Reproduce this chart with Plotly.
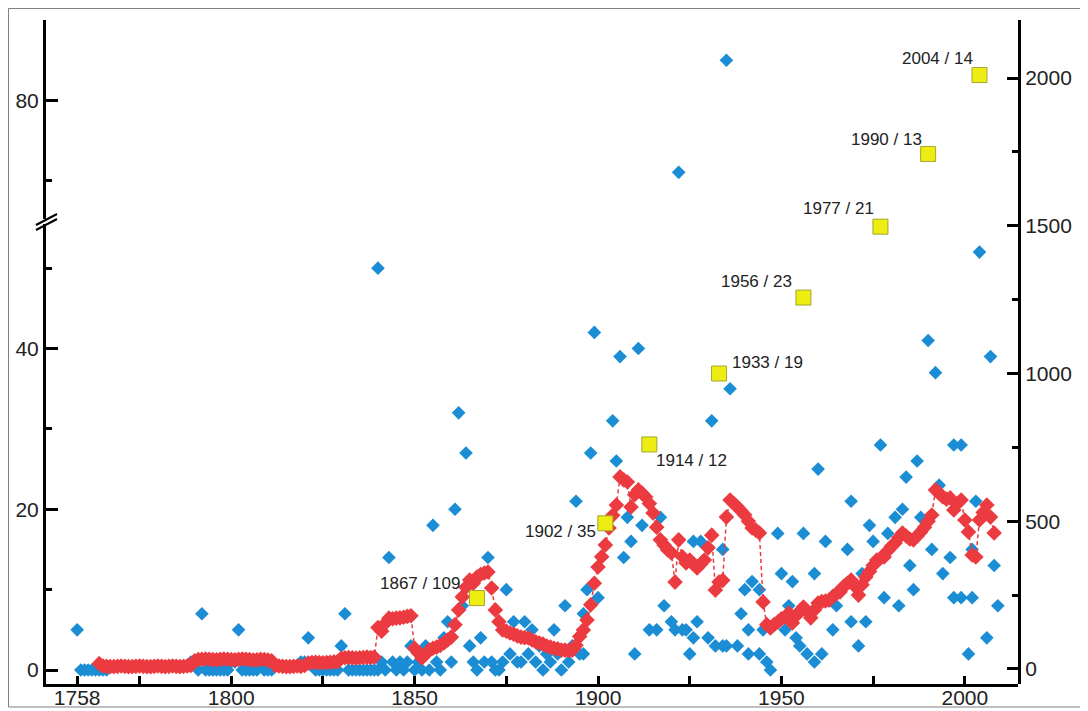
import plotly.graph_objects as go

# ---------------- data ----------------
red_start_year = 1764
red_values = [
    18,
    10, 9, 8, 8, 9, 10, 9, 8, 8, 9, 10, 9, 8, 8, 9, 10, 9, 8, 9, 10, 9, 8, 9, 10, 12,
    28, 32, 33, 34, 33, 32, 31, 33, 34, 33, 32, 31, 33, 34, 33, 32, 30, 31, 33, 32, 30, 28,
    12, 10, 9, 8, 8, 9, 10, 9, 12,
    20, 22, 23, 22, 21, 22, 23, 24, 25,
    36, 38, 39, 38, 37, 38, 39, 40, 39, 40,
    140, 128, 155, 172, 170, 172, 173, 175, 178, 180,
    70, 54, 37, 50, 64, 70, 74, 80, 88, 98,
    108, 150, 200, 244, 277, 301, 290, 311, 320, 325,
    328, 274, 200, 160, 132, 128, 122, 118, 112, 108,
    106, 105, 98, 92, 88, 84, 78, 74, 70, 68,
    64, 64, 62, 64, 80, 110, 132, 166, 217, 290,
    345, 380, 420, 477, 520, 555, 650, 640, 633, 548,
    590, 606, 595, 582, 560, 528, 480, 437, 420, 403,
    393, 294, 437, 380, 359, 369, 355, 342, 355, 369,
    410, 453, 267, 294, 300, 514, 572, 560, 548, 535,
    521, 500, 477, 470, 460, 227, 150, 139, 150, 159,
    170, 176, 189, 156, 180, 195, 210, 195, 173, 200,
    223, 228, 230, 233, 245, 255, 261, 280, 290, 301,
    280, 250, 285, 311, 330, 350, 369, 375, 379, 400,
    415, 426, 445, 460, 450, 440, 437, 450, 464, 480,
    500, 521, 606, 595, 582, 575, 579, 538, 560, 572,
    504, 464, 386, 379, 504, 530, 555, 514, 460,
]
red_years = list(range(red_start_year, red_start_year + len(red_values)))

blue_years = [
    1758, 1759, 1760, 1761, 1762, 1763, 1764, 1765, 1766,
    1789, 1790, 1791, 1792, 1793, 1794, 1795, 1796, 1797, 1798, 1799,
    1800, 1801, 1802, 1803, 1804, 1805, 1806, 1807, 1808, 1809, 1810, 1811,
    1819, 1820, 1821, 1822, 1823, 1824, 1825, 1826, 1827, 1828, 1829,
    1830, 1831, 1832, 1833, 1834, 1835, 1836, 1837, 1838, 1839,
    1840, 1840, 1841, 1842, 1843, 1844, 1845, 1846, 1847, 1848, 1849,
    1850, 1851, 1852, 1853, 1854, 1855, 1856, 1857, 1858, 1859,
    1860, 1861, 1862, 1863, 1864, 1865, 1866, 1867, 1868, 1869,
    1870, 1871, 1872, 1873, 1874, 1875, 1876, 1877, 1878, 1879,
    1880, 1881, 1882, 1883, 1884, 1885, 1886, 1887, 1888, 1889,
    1890, 1891, 1892, 1893, 1894, 1895, 1896, 1896, 1897, 1898, 1899,
    1900, 1904, 1905, 1906, 1907, 1908, 1909, 1910, 1911, 1912,
    1914, 1916, 1917, 1918, 1920, 1921, 1922, 1923, 1924, 1925,
    1926, 1926, 1927, 1928, 1930, 1931, 1932, 1934, 1934, 1935, 1935, 1936,
    1938, 1939, 1940, 1941, 1941, 1942, 1944, 1944, 1945, 1946, 1947,
    1949, 1950, 1951, 1952, 1953, 1954, 1955, 1956, 1957, 1959, 1959,
    1960, 1961, 1962, 1964, 1965, 1968, 1969, 1969, 1971, 1972, 1973,
    1974, 1975, 1977, 1978, 1979, 1981, 1982, 1983, 1984, 1985, 1986,
    1987, 1988, 1990, 1991, 1992, 1993, 1994, 1996, 1997, 1997, 1999, 1999,
    2001, 2002, 2002, 2003, 2004, 2006, 2007, 2008, 2009,
]
blue_values = [
    5, 0, 0, 0, 0, 0, 0, 0, 0,
    1, 1, 0, 7, 0, 0, 0, 0, 0, 0, 0,
    1, 1, 5, 0, 0, 0, 0, 0, 1, 0, 0, 0,
    1, 1, 4, 1, 0, 0, 0, 0, 0, 0, 0,
    3, 7, 0, 0, 0, 0, 0, 0, 0, 0,
    50, 0, 1, 0, 14, 1, 0, 1, 0, 1, 3,
    0, 1, 0, 3, 0, 18, 1, 0, 4, 6,
    1, 20, 32, 8, 27, 3, 1, 0, 4, 1,
    14, 1, 0, 0, 1, 10, 2, 6, 1, 1,
    6, 2, 5, 1, 3, 0, 2, 1, 5, 2,
    0, 8, 1, 3, 21, 2, 7, 2, 10, 27, 42,
    9, 31, 26, 39, 14, 19, 16, 2, 40, 18,
    5, 5, 19, 8, 6, 5, 71, 5, 5, 2,
    16, 4, 6, 16, 4, 31, 3, 15, 3, 85, 3, 35,
    3, 7, 10, 5, 2, 11, 10, 2, 5, 1, 0,
    17, 12, 5, 8, 11, 4, 3, 17, 2, 12, 1,
    25, 2, 16, 5, 8, 15, 21, 6, 3, 12, 6,
    18, 16, 28, 9, 17, 19, 8, 20, 24, 13, 10,
    26, 19, 41, 15, 37, 23, 12, 14, 28, 9, 28, 9,
    2, 15, 9, 21, 52, 4, 39, 13, 8,
]

milestone_years = [1867, 1902, 1914, 1933, 1956, 1977, 1990, 2004]
milestone_values = [240, 493, 760, 1000, 1257, 1497, 1743, 2010]
milestone_labels = ["1867 / 109", "1902 / 35", "1914 / 12", "1933 / 19",
                    "1956 / 23", "1977 / 21", "1990 / 13", "2004 / 14"]

x_tick_vals = [1758, 1800, 1850, 1900, 1950, 2000]
x_minor_ticks = [1775, 1825, 1875, 1925, 1975]
left_low_ticks = [0, 20, 40]
left_low_minor = [10, 30, 50]
left_high_ticks = [80]
left_high_minor = [70, 90]
right_ticks = [0, 500, 1000, 1500, 2000]
right_minor = [250, 750, 1250, 1750]
axis_break_value = 60

# ---------------- style ----------------
BLUE = "#1B8DD4"
RED = "#EC3B40"
YELLOW = "#EDED12"
YELLOW_EDGE = "#A5A530"
FONT = "Liberation Sans, Arial, Helvetica, sans-serif"
TEXT = "#222222"

# the page body has an 8px margin, so the figure starts at page (8, 8)
OFF = 8
W, H = 1088 - OFF, 711 - OFF
ML, MR, MT, MB = 46 - OFF, 70, 20 - OFF, 27
PW, PH = W - ML - MR, H - MT - MB

# label offsets (pixels) relative to each square: (xanchor, xshift, yshift)
label_style = [("right", -15, 15), ("right", -7, -8), ("left", 5, -16), ("left", 11, 11),
               ("right", -9, 16), ("right", -4, 18), ("right", -4, 14), ("right", -4, 17)]

low_x = [x for x, v in zip(blue_years, blue_values) if v < axis_break_value]
low_y = [v for v in blue_values if v < axis_break_value]
high_x = [x for x, v in zip(blue_years, blue_values) if v >= axis_break_value]
high_y = [v for v in blue_values if v >= axis_break_value]

fig = go.Figure()
blue_marker = dict(symbol="diamond", size=10.5, color=BLUE, line=dict(width=0))
fig.add_trace(go.Scatter(x=low_x, y=low_y, mode="markers", marker=blue_marker,
                         xaxis="x", yaxis="y", cliponaxis=False, showlegend=False))
fig.add_trace(go.Scatter(x=high_x, y=high_y, mode="markers", marker=blue_marker,
                         xaxis="x", yaxis="y2", cliponaxis=False, showlegend=False))
fig.add_trace(go.Scatter(x=red_years, y=red_values, mode="lines+markers",
                         line=dict(color=RED, width=1.5, dash="4px,3px"),
                         marker=dict(symbol="diamond", size=12, color=RED, line=dict(width=0)),
                         xaxis="x", yaxis="y3", cliponaxis=False, showlegend=False))
fig.add_trace(go.Scatter(x=milestone_years, y=milestone_values, mode="markers",
                         marker=dict(symbol="square", size=15, color=YELLOW,
                                     line=dict(color=YELLOW_EDGE, width=1)),
                         xaxis="x", yaxis="y3", cliponaxis=False, showlegend=False))

annotations = []
for yr, val, lab, (xa, xs, ys) in zip(milestone_years, milestone_values, milestone_labels, label_style):
    annotations.append(dict(x=yr, y=val, xref="x", yref="y3", text=lab, showarrow=False,
                            xanchor=xa, yanchor="middle", xshift=xs, yshift=ys,
                            font=dict(family=FONT, size=17, color=TEXT)))

def px_x(p):
    # page pixel -> paper coordinate
    return (p - OFF - ML) / PW

def px_y(p):
    return (H - MB - (p - OFF)) / PH

shapes = [
    dict(type="rect", xref="paper", yref="paper", x0=px_x(OFF + 0.5), x1=px_x(1084),
         y0=px_y(707), y1=px_y(OFF + 0.5), line=dict(color="#808080", width=1)),
    dict(type="line", xref="paper", yref="paper", x0=px_x(36), y0=px_y(230),
         x1=px_x(57), y1=px_y(219), line=dict(color="black", width=2)),
    dict(type="line", xref="paper", yref="paper", x0=px_x(36), y0=px_y(225),
         x1=px_x(57), y1=px_y(214), line=dict(color="black", width=2)),
]

tickfont = dict(family=FONT, size=21, color=TEXT)
axis_common = dict(showline=True, linecolor="black", linewidth=3, ticks="inside",
                   tickcolor="black", tickwidth=2.5, showgrid=False, zeroline=False,
                   tickfont=tickfont, automargin=False)

fig.update_layout(
    width=W, height=H,
    margin=dict(l=ML, r=MR, t=MT, b=MB, autoexpand=False),
    paper_bgcolor="white", plot_bgcolor="rgba(0,0,0,0)",
    showlegend=False,
    xaxis=dict(range=[1749.5, 2014.5], anchor="y", tickvals=x_tick_vals, ticklen=8,
               ticklabelstandoff=-7,
               minor=dict(tickvals=x_minor_ticks, ticks="inside", ticklen=8,
                          tickwidth=2.5, tickcolor="black"),
               **axis_common),
    yaxis=dict(domain=[0, 0.6925], range=[-1.74, 55.47], anchor="x", side="left",
               tickvals=left_low_ticks, ticklen=12,
               minor=dict(tickvals=left_low_minor, ticks="inside", ticklen=6,
                          tickwidth=2.5, tickcolor="black"),
               **axis_common),
    yaxis2=dict(domain=[0.7, 1], range=[65.15, 90.02], anchor="x", side="left",
                tickvals=left_high_ticks, ticklen=12,
                minor=dict(tickvals=left_high_minor, ticks="inside", ticklen=6,
                           tickwidth=2.5, tickcolor="black"),
                **axis_common),
    yaxis3=dict(domain=[0, 1], range=[-50.8, 2196.3], anchor="x", side="right",
                tickvals=right_ticks, ticklen=11,
                minor=dict(tickvals=right_minor, ticks="inside", ticklen=6,
                           tickwidth=2.5, tickcolor="black"),
                **axis_common),
    annotations=annotations,
    shapes=shapes,
)

fig.write_html("out.html")
